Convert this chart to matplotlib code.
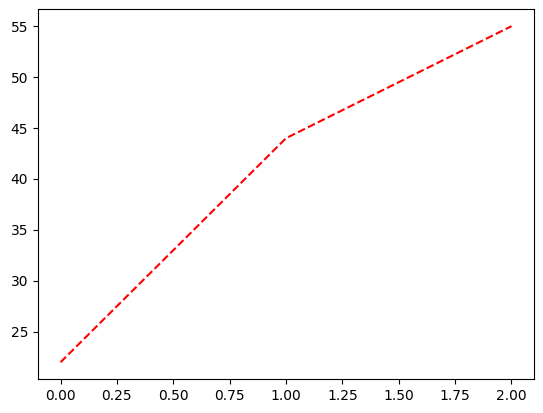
import matplotlib
matplotlib.use("Agg")
import matplotlib.pyplot as plt

x_vals = [0, 1, 2]
y_vals = [22, 44, 55]

fig = plt.figure(figsize=(5.43, 4.13), dpi=100)
ax = fig.add_axes([0.0700, 0.0823, 0.9135, 0.8950])
ax.plot(x_vals, y_vals, 'r--')

fig.savefig("out.png", dpi=100)
